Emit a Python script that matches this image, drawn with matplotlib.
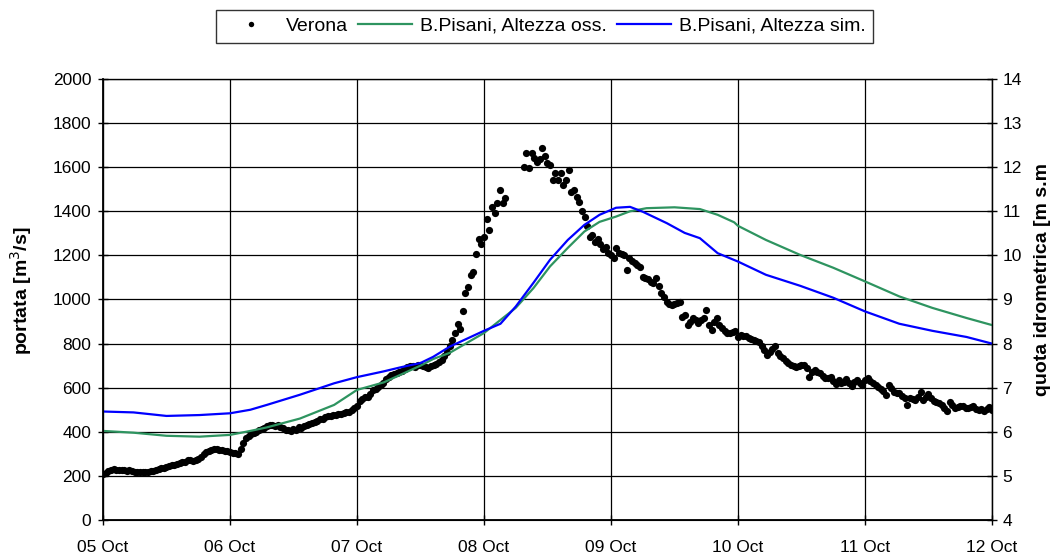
import numpy as np
import pandas as pd
import matplotlib
matplotlib.use('Agg')
import matplotlib.pyplot as plt
import matplotlib.dates as mdates

plt.rcParams['font.family'] = ['Liberation Sans', 'DejaVu Sans']

t0 = pd.Timestamp('2000-10-05 00:00')

# Verona discharge [m3/s], every 30 min from 05 Oct 00:00 to 12 Oct 00:00
nan = np.nan
verona_d05 = [209, 214, 222, 226, 230, 228, 229, 226, 227, 224, 226, 222,
              220, 218, 219, 216, 218, 220, 222, 224, 226, 230, 234, 236,
              240, 244, 248, 250, 254, 258, 262, 264, 270, 272, 268, 272,
              276, 288, 300, 308, 312, 316, 320, 322, 318, 316, 314, 312]
verona_d06 = [310, 306, 302, 298, 320, 350, 370, 382, 388, 394, 400, 406,
              412, 418, 426, 430, 432, 428, 430, 424, 418, 410, 406, 404,
              412, 408, 420, 416, 428, 430, 436, 440, 446, 450, 456, 460,
              466, 470, 472, 476, 478, 480, 482, 486, 488, 492, 500, 508]
verona_d07 = [518, 540, 548, 558, 560, 572, 588, 596, 605, 612, 620, 640,
              650, 656, 662, 666, 672, 678, 684, 692, 700, 698, 696, 702,
              704, 698, 692, 688, 700, 704, 708, 716, 726, 745, 763, 790,
              816, 847, 889, 865, 949, 1028, 1058, 1111, 1126, 1205, 1274, 1250]
verona_d08 = [1285, 1364, 1315, 1421, 1394, 1439, 1497, 1439, 1462, nan, nan, nan,
              nan, nan, nan, 1599, 1663, 1595, 1663, 1640, 1625, 1636, 1686, 1651,
              1620, 1610, 1542, 1572, 1542, 1572, 1519, 1540, 1587, 1489, 1497, 1463,
              1440, 1403, 1373, 1333, 1282, 1292, 1262, 1273, 1250, 1228, 1239, 1212]
verona_d09 = [1202, 1190, 1232, 1209, 1205, 1202, 1134, 1187, 1175, 1164, 1155, 1149,
              1103, 1098, 1092, 1080, 1073, 1096, 1060, 1028, 1010, 990, 980, 975,
              980, 986, 990, 922, 930, 884, 900, 915, 905, 895, 905, 915,
              952, 884, 862, 900, 915, 884, 870, 858, 850, 847, 852, 859]
verona_d10 = [831, 838, 834, 834, 826, 820, 816, 812, 809, 790, 771, 748,
              760, 775, 789, 756, 745, 733, 720, 710, 703, 698, 695, 700,
              705, 703, 690, 650, 670, 680, 672, 665, 655, 645, 643, 650,
              630, 617, 635, 620, 628, 638, 622, 608, 625, 635, 620, 612]
verona_d11 = [635, 643, 630, 620, 612, 605, 595, 586, 567, 612, 598, 582,
              578, 575, 562, 552, 522, 552, 548, 544, 560, 582, 544, 560,
              571, 555, 541, 536, 532, 522, 510, 496, 537, 520, 507, 512,
              517, 515, 510, 507, 512, 517, 505, 499, 502, 496, 505, 511, 499]
verona = (verona_d05 + verona_d06 + verona_d07 + verona_d08 +
          verona_d09 + verona_d10 + verona_d11)
verona_t = pd.date_range(t0, periods=len(verona), freq='30min')

# B.Pisani water level [m s.m.], time in days from 05 Oct
oss_days = [0.0, 0.24, 0.50, 0.76, 1.0, 1.16, 1.29, 1.55, 1.82, 2.0, 2.21, 2.34,
            2.5, 2.6, 2.73, 3.0, 3.25, 3.39, 3.52, 3.66, 3.79, 3.91, 4.04, 4.15,
            4.28, 4.5, 4.7, 4.84, 4.97, 5.0, 5.22, 5.49, 5.75, 6.0, 6.27, 6.53,
            6.80, 7.0]
oss_level = [6.02, 5.98, 5.91, 5.89, 5.93, 6.02, 6.10, 6.30, 6.61, 6.95, 7.12, 7.29,
             7.50, 7.65, 7.79, 8.24, 8.81, 9.26, 9.75, 10.17, 10.54, 10.76, 10.88, 11.0,
             11.07, 11.09, 11.05, 10.92, 10.75, 10.67, 10.35, 10.01, 9.72, 9.41, 9.07, 8.81,
             8.58, 8.42]
sim_days = [0.0, 0.24, 0.50, 0.76, 1.0, 1.16, 1.29, 1.55, 1.82, 2.0, 2.21, 2.34,
            2.5, 2.6, 2.73, 3.0, 3.13, 3.25, 3.39, 3.52, 3.66, 3.79, 3.91, 4.04,
            4.15, 4.25, 4.44, 4.58, 4.70, 4.84, 5.0, 5.22, 5.49, 5.75, 6.0, 6.27,
            6.53, 6.80, 7.0]
sim_level = [6.46, 6.44, 6.36, 6.38, 6.42, 6.50, 6.61, 6.84, 7.10, 7.24, 7.37, 7.46,
             7.56, 7.70, 7.93, 8.29, 8.45, 8.84, 9.38, 9.90, 10.35, 10.69, 10.92, 11.08,
             11.10, 10.99, 10.73, 10.51, 10.39, 10.05, 9.86, 9.56, 9.31, 9.04, 8.73, 8.45,
             8.29, 8.15, 8.0]

oss_t = t0 + pd.to_timedelta(oss_days, unit='D')
sim_t = t0 + pd.to_timedelta(sim_days, unit='D')

fig = plt.figure(figsize=(10.64, 5.56), dpi=100)
ax = fig.add_axes([0.0968, 0.0647, 0.8355, 0.7933])
ax2 = ax.twinx()

p1, = ax.plot(verona_t, verona, 'o', color='black', markersize=5.2,
              markeredgewidth=0, label='Verona')
p2, = ax2.plot(oss_t, oss_level, color='#2e9460', lw=1.6,
               label='B.Pisani, Altezza oss.')
p3, = ax2.plot(sim_t, sim_level, color='#0000ff', lw=1.6,
               label='B.Pisani, Altezza sim.')

ax.set_xlim(t0, t0 + pd.Timedelta(days=7))
ax.set_ylim(0, 2000)
ax.set_yticks(np.arange(0, 2001, 200))
ax2.set_ylim(4, 14)
ax2.set_yticks(np.arange(4, 15, 1))

ax.xaxis.set_major_locator(mdates.DayLocator())
ax.xaxis.set_major_formatter(mdates.DateFormatter('%d %b'))

ax.grid(True, color='black', lw=0.9)
ax.tick_params(axis='y', direction='inout', length=7, width=1, labelsize=12.5, pad=5)
ax.tick_params(axis='x', direction='inout', length=7, width=1, labelsize=12.5, pad=11)
ax2.tick_params(direction='inout', length=7, width=1, labelsize=12.5, pad=4)
for s in ['left', 'bottom']:
    ax.spines[s].set_linewidth(1.3)
ax2.spines['right'].set_linewidth(1.0)
ax2.spines['top'].set_linewidth(0.9)

ax.set_ylabel('portata [m$^3$/s]', fontsize=14, fontweight='bold')
ax.yaxis.set_label_coords(-0.078, 0.52)
ax2.set_ylabel('quota idrometrica [m s.m', fontsize=14, fontweight='bold')
ax2.yaxis.set_label_coords(1.047, 0.545)

leg = fig.legend(handles=[p1, p2, p3], loc='center', bbox_to_anchor=(0.512, 0.953),
                 ncol=3, fontsize=14, frameon=True, fancybox=False,
                 edgecolor='black', handlelength=2.8, columnspacing=0.5,
                 handletextpad=0.4, borderpad=0.4, markerscale=0.75)
leg.get_frame().set_linewidth(1.0)

fig.savefig('out.png', dpi=100)
